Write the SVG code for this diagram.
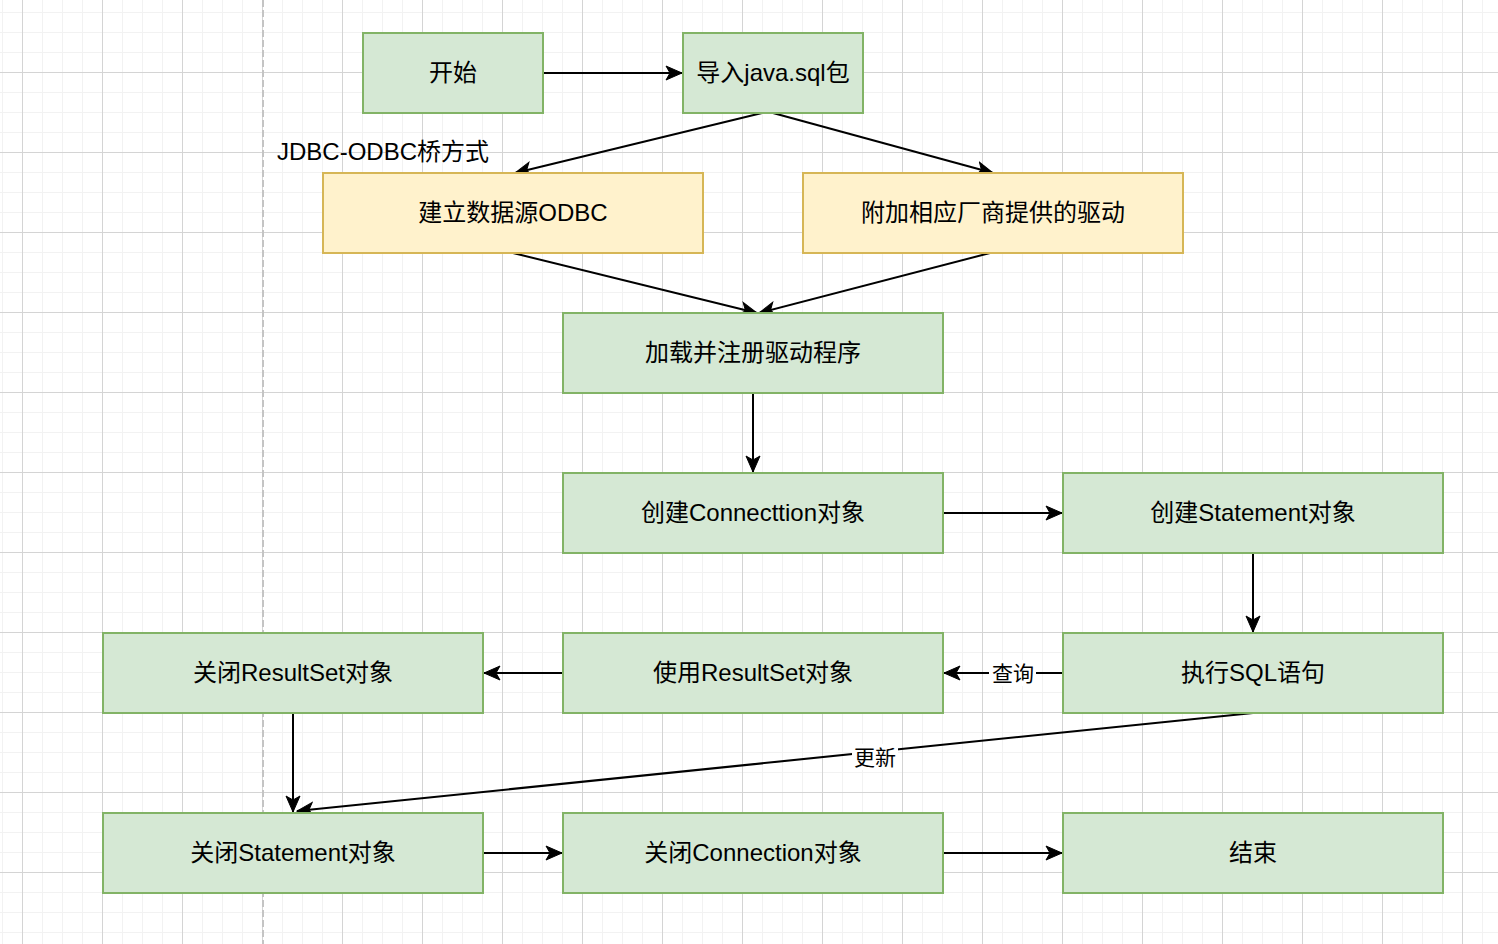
<svg xmlns="http://www.w3.org/2000/svg" width="1498" height="944" viewBox="0 0 1498 944">
<style>
.g rect{fill:#d5e8d4;stroke:#82b366;stroke-width:2}
.y rect{fill:#fff2cc;stroke:#d6b656;stroke-width:2}
text{font-family:"Liberation Sans","Noto Sans CJK SC",sans-serif;font-size:24px;fill:#000}
.n text{text-anchor:middle}
.e path{fill:none;stroke:#000;stroke-width:2;marker-end:url(#ah)}
.lbl{font-size:21px;text-anchor:middle}
</style>
<defs>
<pattern id="minor" patternUnits="userSpaceOnUse" x="2" y="12" width="20" height="20">
<path d="M0.5 0V20M0 0.5H20" stroke="#f2f2f2" stroke-width="1" fill="none"/>
</pattern>
<pattern id="major" patternUnits="userSpaceOnUse" x="22" y="72" width="80" height="80">
<path d="M0.5 0V80M0 0.5H80" stroke="#d4d4d4" stroke-width="1" fill="none"/>
</pattern>
<marker id="ah" markerUnits="userSpaceOnUse" markerWidth="18" markerHeight="16" refX="17" refY="8" orient="auto" viewBox="0 0 18 16">
<path d="M1,1 L17,8 L1,15 L5,8 Z" fill="#000" stroke="#000" stroke-width="1"/>
</marker>
</defs>
<rect width="1498" height="944" fill="#fff"/>
<rect width="1498" height="944" fill="url(#minor)"/>
<rect width="1498" height="944" fill="url(#major)"/>
<line x1="263" y1="0" x2="263" y2="944" stroke="#c4c4c4" stroke-width="2" stroke-dasharray="7 3"/>

<g id="connectors" class="e">
<path d="M543 73H682"/>
<path d="M762 113L515 173"/>
<path d="M773 113L993 173"/>
<path d="M513 253L757 313"/>
<path d="M990 253L759 313"/>
<path d="M753 393V472"/>
<path d="M943 513H1062"/>
<path d="M1253 553V632"/>
<path d="M1063 673H944"/>
<path d="M563 673H484"/>
<path d="M293 713V812"/>
<path d="M1253 713L297 811"/>
<path d="M483 853H562"/>
<path d="M943 853H1062"/>
<g id="edge-labels">
<rect x="989" y="660" width="47" height="26" fill="#fff"/>
<text class="lbl" x="1013" y="681">查询</text>
<rect x="852" y="744" width="46" height="26" fill="#fff"/>
<text class="lbl" x="875" y="765">更新</text>
</g>
</g>

<text id="label-jdbc" x="277" y="159.5">JDBC-ODBC桥方式</text>

<g id="start" class="n g"><rect x="363" y="33" width="180" height="80"/><text x="453" y="81">开始</text></g>
<g id="import" class="n g"><rect x="683" y="33" width="180" height="80"/><text x="773" y="81">导入java.sql包</text></g>
<g id="odbc" class="n y"><rect x="323" y="173" width="380" height="80"/><text x="513" y="221">建立数据源ODBC</text></g>
<g id="vendor" class="n y"><rect x="803" y="173" width="380" height="80"/><text x="993" y="221">附加相应厂商提供的驱动</text></g>
<g id="load" class="n g"><rect x="563" y="313" width="380" height="80"/><text x="753" y="361">加载并注册驱动程序</text></g>
<g id="conn" class="n g"><rect x="563" y="473" width="380" height="80"/><text x="753" y="521">创建Connecttion对象</text></g>
<g id="stmt" class="n g"><rect x="1063" y="473" width="380" height="80"/><text x="1253" y="521">创建Statement对象</text></g>
<g id="exec" class="n g"><rect x="1063" y="633" width="380" height="80"/><text x="1253" y="681">执行SQL语句</text></g>
<g id="use-rs" class="n g"><rect x="563" y="633" width="380" height="80"/><text x="753" y="681">使用ResultSet对象</text></g>
<g id="close-rs" class="n g"><rect x="103" y="633" width="380" height="80"/><text x="293" y="681">关闭ResultSet对象</text></g>
<g id="close-stmt" class="n g"><rect x="103" y="813" width="380" height="80"/><text x="293" y="861">关闭Statement对象</text></g>
<g id="close-conn" class="n g"><rect x="563" y="813" width="380" height="80"/><text x="753" y="861">关闭Connection对象</text></g>
<g id="end" class="n g"><rect x="1063" y="813" width="380" height="80"/><text x="1253" y="861">结束</text></g>
</svg>
